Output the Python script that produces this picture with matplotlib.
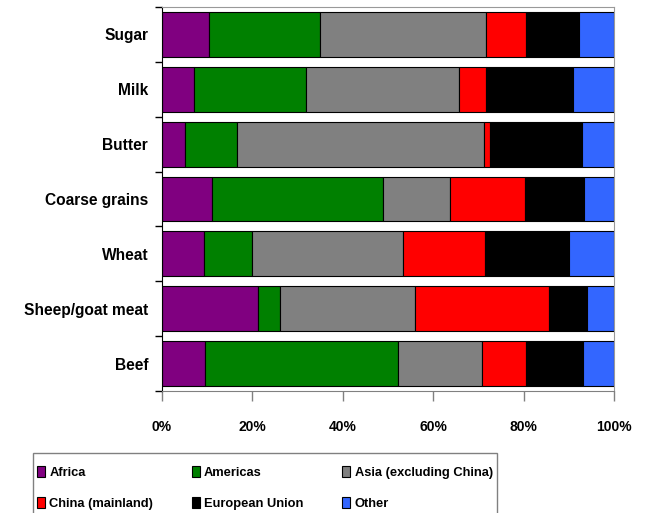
import matplotlib.pyplot as plt
import numpy as np
from matplotlib.patches import Rectangle

# categories, top to bottom as in the picture
products = ['Sugar', 'Milk', 'Butter', 'Coarse grains', 'Wheat', 'Sheep/goat meat', 'Beef']

# share of each region (%)
africa = [10.5, 7.0, 5.0, 11.1, 9.2, 21.3, 9.5]
americas = [24.5, 24.8, 11.7, 37.7, 10.8, 4.7, 42.8]
asia = [36.7, 33.8, 54.6, 15.0, 33.4, 29.9, 18.4]
china = [8.9, 6.0, 1.3, 16.6, 18.1, 29.7, 9.9]
eu = [11.7, 19.3, 20.4, 12.9, 18.5, 8.5, 12.5]
other = [7.7, 9.1, 7.0, 6.7, 10.0, 5.9, 6.9]

regions = ['Africa', 'Americas', 'Asia (excluding China)',
           'China (mainland)', 'European Union', 'Other']
colors = ['#800080', '#008000', '#808080', '#FF0000', '#000000', '#3366FF']

plt.rcParams['font.family'] = 'Liberation Sans'
plt.rcParams['font.weight'] = 'bold'

fig = plt.figure(figsize=(6.46, 5.13), dpi=100)
ax = fig.add_axes([162/646, 122/513, 452/646, 384/513])

y = np.arange(len(products))[::-1]
left = np.zeros(len(products))
for vals, name, c in zip([africa, americas, asia, china, eu, other], regions, colors):
    ax.barh(y, vals, left=left, height=0.82, color=c, edgecolor='black',
            linewidth=0.8, label=name)
    left = left + np.array(vals)

ax.set_xlim(0, 100)
ax.set_ylim(-0.5, len(products) - 0.5)

ax.set_xticks(range(0, 101, 20))
ax.set_xticklabels([f'{v}%' for v in range(0, 101, 20)], fontsize=10)
ax.tick_params(axis='x', length=7, width=1, color='#808080', pad=14)

ax.set_yticks(y)
ax.set_yticklabels(products, fontsize=11.2)
ax.set_yticks(np.arange(-0.5, len(products), 1), minor=True)
ax.tick_params(axis='y', which='major', length=0, pad=10)
ax.tick_params(axis='y', which='minor', length=5, width=1, color='black')

for s in ['top', 'right']:
    ax.spines[s].set_color('#999999')
ax.spines['bottom'].set_color('#808080')
ax.spines['left'].set_color('black')

# legend filled row by row like the original
h, l = ax.get_legend_handles_labels()
order = [0, 3, 1, 4, 2, 5]
leg = fig.legend([h[i] for i in order], [l[i] for i in order],
                 loc='upper left', bbox_to_anchor=(37/646, 1 - 466/513),
                 ncol=3, frameon=False,
                 handlelength=0.6, handleheight=0.9, handletextpad=0.35,
                 columnspacing=3.0, borderaxespad=0, borderpad=0,
                 labelspacing=1.4, fontsize=9.3)

# legend box, runs off the bottom edge like the original
fig.patches.append(Rectangle((33/646, -0.05), 464/646, 0.05 + 60/513,
                             transform=fig.transFigure, fill=False,
                             edgecolor='#808080', linewidth=1))

plt.savefig('out.png', dpi=100)
